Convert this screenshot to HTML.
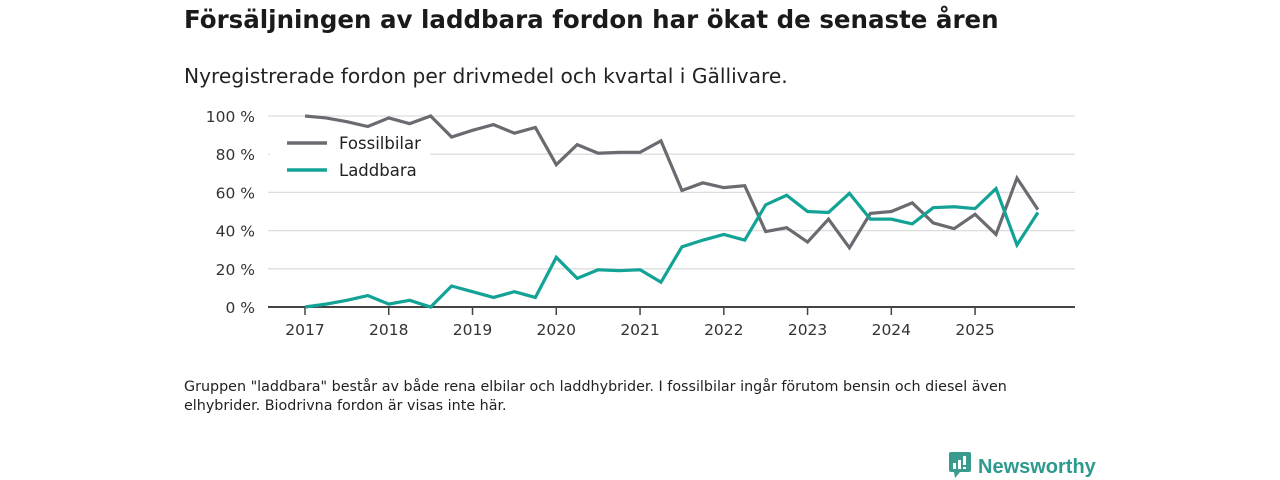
<!DOCTYPE html>
<html><head><meta charset="utf-8"><style>
body{margin:0;width:1280px;height:480px;background:#fff;font-family:"DejaVu Sans",sans-serif;color:#222;position:relative;overflow:hidden}
.t{position:absolute;left:184px;top:5px;font-size:24.5px;font-weight:bold;color:#1a1a1a}
.s{position:absolute;left:184px;top:64px;font-size:20.2px;color:#222}
.f{position:absolute;left:184px;top:378px;font-size:14.3px;line-height:19px;color:#222;width:860px}
.logo{position:absolute;left:948px;top:451px;font-family:"Liberation Sans",sans-serif;font-size:20px;font-weight:bold;color:#2e9a8e}
svg{position:absolute;left:0;top:0}
</style></head><body>
<div class="t">Försäljningen av laddbara fordon har ökat de senaste åren</div>
<div class="s">Nyregistrerade fordon per drivmedel och kvartal i Gällivare.</div>
<svg id="c" width="1280" height="480"></svg>
<div class="f">Gruppen "laddbara" består av både rena elbilar och laddhybrider. I fossilbilar ingår förutom bensin och diesel även elhybrider. Biodrivna fordon är visas inte här.</div>
<div class="logo"><svg width="24" height="28" style="position:relative;vertical-align:-6px;margin-right:6px"><rect x="1" y="1" width="22" height="20" rx="2" fill="#3a9a8e"/><polygon points="6,21 12,21 7,27" fill="#3a9a8e"/><rect x="5" y="12" width="3" height="6" fill="#fff"/><rect x="10" y="9" width="3" height="9" fill="#fff"/><rect x="15" y="5" width="3" height="9" fill="#fff"/><rect x="15" y="16" width="3" height="2" fill="#fff"/></svg>Newsworthy</div>
<script>
const years=["2017","2018","2019","2020","2021","2022","2023","2024","2025"];
const yTicks=[0,20,40,60,80,100];
const fossil=[100,99,97,94.5,99,96,100,89,92.5,95.5,91,94,74.5,85,80.5,81,81,87,61,65,62.5,63.5,39.5,41.5,34,46,31,49,50,54.5,44,41,48.5,38,67.5,51];
const laddbara=[0,1.5,3.5,6,1.5,3.5,0,11,8,5,8,5,26,15,19.5,19,19.5,13,31.5,35,38,35,53.5,58.5,50,49.5,59.5,46,46,43.5,52,52.5,51.5,62,32.5,49.5];
const svg=document.getElementById('c');const NS='http://www.w3.org/2000/svg';
const X=i=>305+i*20.94, Y=v=>307-v*1.91;
function mk(t,a,p){const e=document.createElementNS(NS,t);for(const k in a)e.setAttribute(k,a[k]);(p||svg).appendChild(e);return e;}
yTicks.forEach(v=>{
 if(v>0){const g=mk('line',{x1:268,x2:1075,y1:Y(v),y2:Y(v),stroke:'#ddd','stroke-width':1.3});
 
 }
 const t=mk('text',{x:255,y:Y(v)+6,'text-anchor':'end','font-size':15.5,fill:'#333'});t.textContent=v+' %';
 
 
});
const ax=mk('line',{x1:268,x2:1075,y1:307,y2:307,stroke:'#444','stroke-width':2});


years.forEach((y,k)=>{const x=X(k*4);
 const tk=mk('line',{x1:x,x2:x,y1:307,y2:315,stroke:'#444','stroke-width':1.5});
 
 
 const t=mk('text',{x:x,y:335,'text-anchor':'middle','font-size':15.5,fill:'#333'});t.textContent=y;
 
 });
function line(d,c,n){const p=mk('polyline',{points:d.map((v,i)=>X(i)+','+Y(v)).join(' '),fill:'none',stroke:c,'stroke-width':3.2,'stroke-linejoin':'miter'});
 
 }
mk('rect',{x:270,y:128,width:160,height:60,fill:'#fff'});
line(fossil,'#6b6a70','line-fossilbilar');
line(laddbara,'#13a396','line-laddbara');
[['Fossilbilar','#6b6a70',143],['Laddbara','#13a396',170]].forEach(([n,c,y])=>{
 const l=mk('line',{x1:287,x2:327,y1:y,y2:y,stroke:c,'stroke-width':3.5});
 
 
 const t=mk('text',{x:339,y:y+6,'font-size':16.5,fill:'#222'});t.textContent=n;
 
 });
</script>
</body></html>
